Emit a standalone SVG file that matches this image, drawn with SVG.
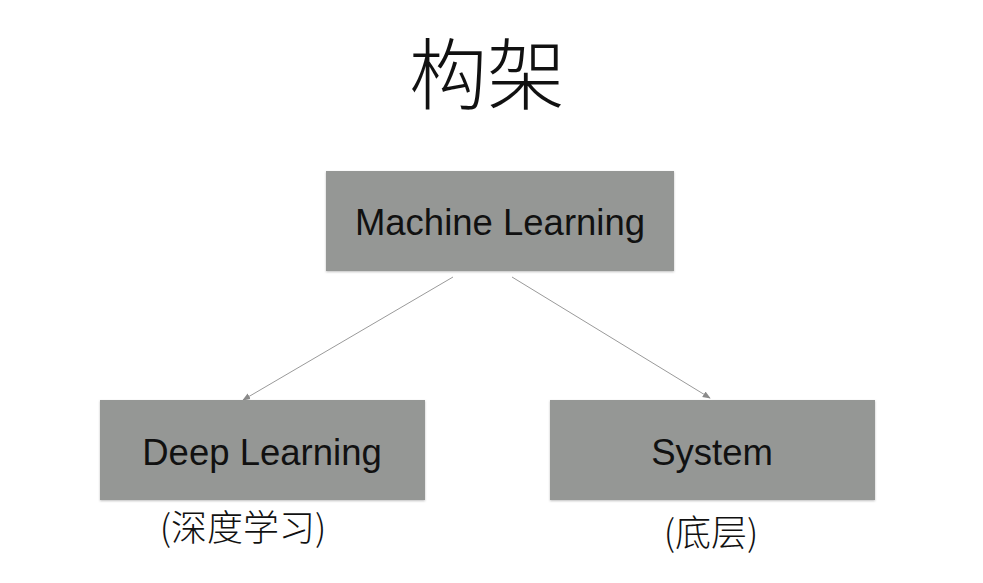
<svg xmlns="http://www.w3.org/2000/svg" width="983" height="583" viewBox="0 0 983 583">
<style>
.box{fill:#959795;filter:url(#sh)}
.lbl{font-family:"Liberation Sans","Helvetica",sans-serif;font-size:36.5px;fill:#111;text-anchor:middle}
.cjk{font-family:"Noto Sans CJK SC",sans-serif;font-weight:300;fill:#111;text-anchor:middle}
.conn{stroke:#9a9a9a;stroke-width:1;fill:none;marker-end:url(#ah)}
</style>
<defs>
<filter id="sh" x="-5%" y="-5%" width="110%" height="115%">
<feDropShadow dx="0" dy="1" stdDeviation="1.2" flood-color="#000" flood-opacity="0.25"/>
</filter>
<marker id="ah" viewBox="0 0 10 10" refX="9" refY="5" markerWidth="8" markerHeight="8" orient="auto" markerUnits="userSpaceOnUse">
<path d="M0,1 L10,5 L0,9 Z" fill="#8a8a8a"/>
</marker>
</defs>
<rect width="983" height="583" fill="#fff"/>
<text id="title" class="cjk" x="487" y="104" font-size="78">构架</text>
<g id="connectors">
<line class="conn" x1="453" y1="277" x2="243" y2="400"/>
<line class="conn" x1="512" y1="277" x2="710" y2="398"/>
</g>
<g id="ml">
<rect class="box" x="326" y="171" width="348" height="100"/>
<text class="lbl" x="500" y="235">Machine Learning</text>
</g>
<g id="dl">
<rect class="box" x="100" y="400" width="325" height="100"/>
<text class="lbl" x="262" y="465">Deep Learning</text>
<text class="cjk" x="243" y="541" font-size="36">(深度学习)</text>
</g>
<g id="sys">
<rect class="box" x="550" y="400" width="325" height="100"/>
<text class="lbl" x="712" y="465">System</text>
<text class="cjk" x="711" y="546" font-size="36">(底层)</text>
</g>
</svg>
